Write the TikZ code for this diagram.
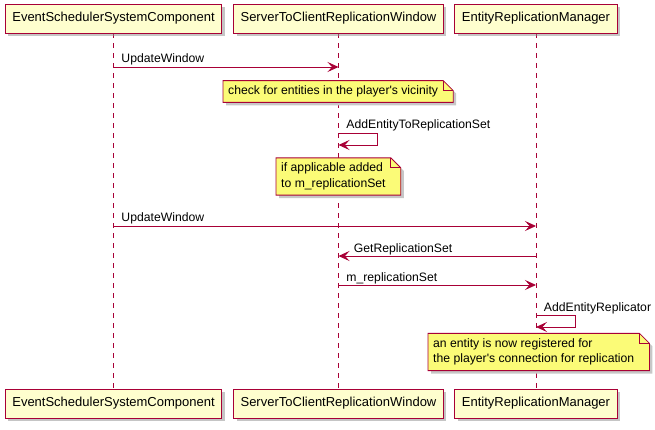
\documentclass[tikz,border=0pt]{standalone}
\usepackage{fontspec}
\setmainfont{Liberation Sans}
\usetikzlibrary{arrows.meta,shadows}

\definecolor{umlred}{HTML}{A80036}
\definecolor{partfill}{HTML}{FEFECE}
\definecolor{notefill}{HTML}{FBFB77}

\pgfdeclarelayer{back}
\pgfsetlayers{back,main}

% paper of a note, drawn behind its text
\newcommand{\notepaper}[1]{%
  \begin{pgfonlayer}{back}
    \fill[black!22] ([shift={(-2pt,-3pt)}]#1.south west) -- ([shift={(-2pt,-3pt)}]#1.north west)
      -- ([shift={(8pt,-3pt)}]#1.north east) -- ([shift={(18pt,-13pt)}]#1.north east)
      -- ([shift={(18pt,-3pt)}]#1.south east) -- cycle;
    \filldraw[fill=notefill, draw=umlred, line width=0.8pt]
      ([xshift=-5pt]#1.south west) -- ([xshift=-5pt]#1.north west)
      -- ([xshift=5pt]#1.north east) -- ([shift={(15pt,-10pt)}]#1.north east)
      -- ([xshift=15pt]#1.south east) -- cycle;
    \draw[umlred, line width=0.8pt] ([xshift=5pt]#1.north east) |- ([shift={(15pt,-10pt)}]#1.north east);
  \end{pgfonlayer}}

\begin{document}
\begin{tikzpicture}[
		x=1pt, y=-1pt,
		every node/.style={font=\fontsize{12.2}{15.5}\selectfont},
		participant/.style={rectangle, draw=umlred, line width=0.9pt, fill=partfill,
			minimum height=29pt, inner xsep=7pt, font=\fontsize{13}{15.5}\selectfont,
			drop shadow={shadow xshift=3pt, shadow yshift=-3pt, fill=black!45}},
		notetext/.style={anchor=west, align=left, inner xsep=0pt, inner ysep=5pt},
		lifeline/.style={draw=umlred, line width=0.8pt, dash pattern=on 5pt off 5pt},
		msg/.style={draw=umlred, line width=0.9pt, -{Stealth[length=11pt, width=10pt, inset=4.5pt]}},
		msglabel/.style={anchor=base west, inner sep=0pt, xshift=7.5pt, yshift=4pt},
		backlabel/.style={anchor=base west, inner sep=0pt, xshift=15pt, yshift=4pt}
	]
  \useasboundingbox (0,0) rectangle (655,430);

  \node (esc) [participant] at (113.5, 18.5) {EventSchedulerSystemComponent};
  \node (stcw) [participant] at (338.5, 18.5) {ServerToClientReplicationWindow};
  \node (erm) [participant] at (536, 18.5) {EntityReplicationManager};
  \node (esc_1) [participant] at (113.5, 403.5) {EventSchedulerSystemComponent};
  \node (stcw_1) [participant] at (338.5, 403.5) {ServerToClientReplicationWindow};
  \node (erm_1) [participant] at (536, 403.5) {EntityReplicationManager};

  \begin{pgfonlayer}{back}
    \draw[lifeline] (esc) -- (esc_1);
    \draw[lifeline] (stcw) -- (stcw_1);
    \draw[lifeline] (erm) -- (erm_1);
  \end{pgfonlayer}

  \draw[msg] (esc |- 0,67) node[msglabel] {UpdateWindow} -- (stcw |- 0,67);

  \node (n1) [notetext] at (228, 91.5) {check for entities in the player\textquotesingle s vicinity};
  \notepaper{n1}

  \draw[msg] (stcw |- 0,133) node[msglabel] {AddEntityToReplicationSet}
    -- ++(39,0) -- ++(0,12) -- (stcw |- 0,145);

  \node (n2) [notetext] at (281, 176.5) {if applicable added\\to m\_replicationSet};
  \notepaper{n2}

  \draw[msg] (esc |- 0,226) node[msglabel] {UpdateWindow} -- (erm |- 0,226);
  \draw[msg] (erm |- 0,256) -- (stcw |- 0,256) node[backlabel] {GetReplicationSet};
  \draw[msg] (stcw |- 0,285) node[msglabel] {m\_replicationSet} -- (erm |- 0,285);

  \draw[msg] (erm |- 0,315) node[msglabel] {AddEntityReplicator}
    -- ++(39,0) -- ++(0,12) -- (erm |- 0,327);

  \node (n3) [notetext] at (433, 352) {an entity is now registered for\\the player\textquotesingle s connection for replication};
  \notepaper{n3}
\end{tikzpicture}
\end{document}
